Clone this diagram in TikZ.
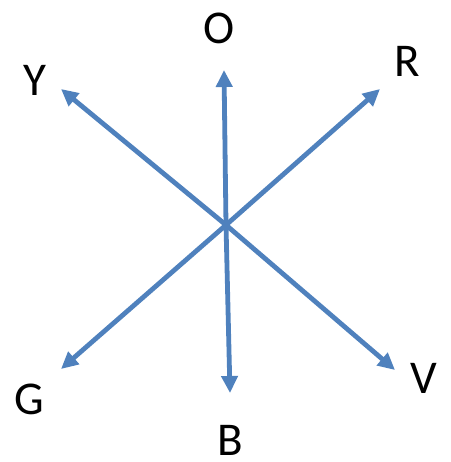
\documentclass[tikz,border=0pt]{standalone}
\usepackage{fontspec}
\setmainfont{Carlito}
\usetikzlibrary{arrows.meta}
\definecolor{arrowblue}{RGB}{79,129,189}
\begin{document}
\begin{tikzpicture}[x=1pt,y=-1pt,
  vec/.style={draw=arrowblue,line width=4.8pt,-{Triangle[length=17pt,width=16pt]}},
  lbl/.style={font=\fontsize{47}{50}\selectfont,inner sep=0pt,anchor=center}]
\useasboundingbox (0,0) rectangle (450,462);
\coordinate (c) at (226,225);
\coordinate (tO) at (224,70);
\coordinate (tR) at (380,89);
\coordinate (tY) at (61,89);
\coordinate (tG) at (61,369);
\coordinate (tB) at (230,393);
\coordinate (tV) at (395,370);
\node[lbl] (O) at (219.5,28) {O};
\node[lbl] (R) at (407,61) {R};
\node[lbl] (Y) at (34.5,80) {Y};
\node[lbl] (G) at (29,399) {G};
\node[lbl] (B) at (230,440) {B};
\node[lbl] (V) at (423.5,378.5) {V};
\draw[vec] (c) -- (tO);
\draw[vec] (c) -- (tR);
\draw[vec] (c) -- (tY);
\draw[vec] (c) -- (tG);
\draw[vec] (c) -- (tB);
\draw[vec] (c) -- (tV);
\end{tikzpicture}
\end{document}
